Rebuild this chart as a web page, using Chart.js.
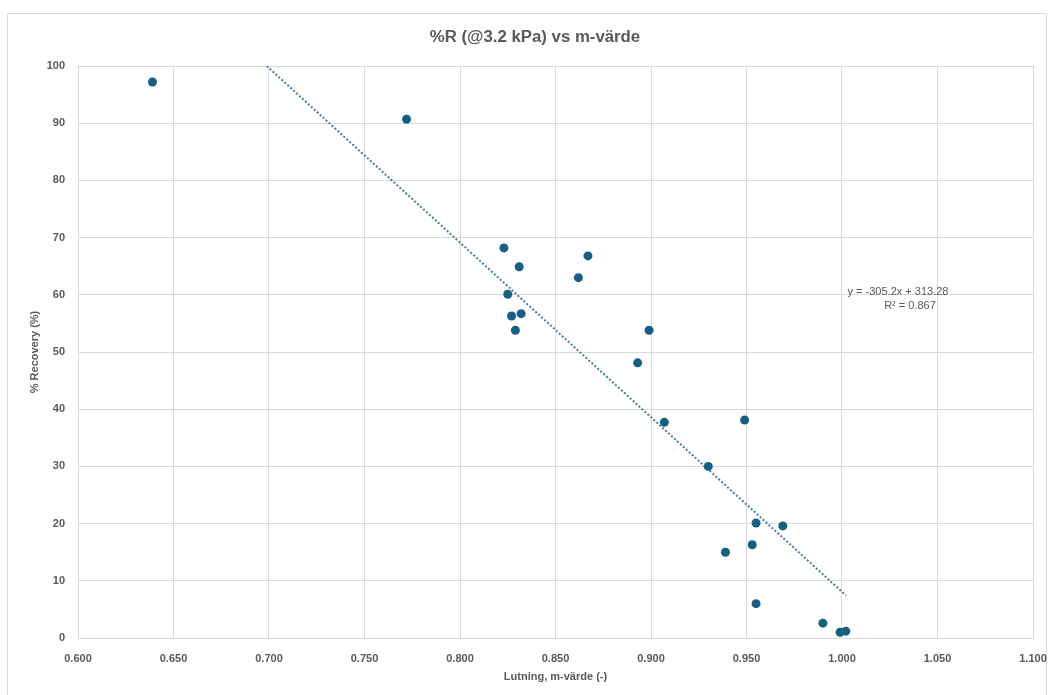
<!DOCTYPE html>
<html>
<head>
<meta charset="utf-8">
<script src="https://cdn.jsdelivr.net/npm/chart.js@4.4.1/dist/chart.umd.min.js"></script>
<style>
  html, body { margin: 0; padding: 0; background: #ffffff; }
  #wrap { position: relative; width: 1052px; height: 695px; overflow: hidden; }
  #frame { position: absolute; left: 7px; top: 13px; width: 1040px; height: 700px; border: 1px solid #d9d9d9; box-sizing: border-box; }
  canvas { position: absolute; left: 0; top: 0; }
</style>
</head>
<body>
<div id="wrap">
  <div id="frame"></div>
  <canvas id="c" width="1052" height="695"></canvas>
</div>
<script>
// ---- Data ----
const mValues = [0.639, 0.772, 0.823, 0.831, 0.825, 0.827, 0.832, 0.829, 0.867, 0.862, 0.899, 0.893,
                 0.907, 0.949, 0.930, 0.955, 0.969, 0.953, 0.939, 0.955, 0.990, 0.999, 1.002];
const recoveryValues = [97.2, 90.7, 68.2, 64.9, 60.1, 56.3, 56.7, 53.8, 66.8, 63.0, 53.8, 48.1,
                        37.7, 38.1, 30.0, 20.1, 19.6, 16.3, 15.0, 6.0, 2.6, 1.0, 1.2];
const trendSlope = [-305.2];
const trendIntercept = [313.28];
const trendX = [0.6988, 1.0021];
const xTicks = ['0.600','0.650','0.700','0.750','0.800','0.850','0.900','0.950','1.000','1.050','1.100'];
const yTicks = [0,10,20,30,40,50,60,70,80,90,100];
const chartTitle = '%R (@3.2 kPa) vs m-värde';
const xTitle = 'Lutning, m-värde (-)';
const yTitle = '% Recovery (%)';
const eqLines = ['y = -305.2x + 313.28', 'R² = 0.867'];

const points = mValues.map((x, i) => ({ x: x, y: recoveryValues[i] }));
const trend = trendX.map(x => ({ x: x, y: trendSlope[0] * x + trendIntercept[0] }));

const TXT = '#595959';
const GRID = '#d9d9d9';
const FONT = "'Liberation Sans', Arial, sans-serif";

const overlay = {
  id: 'overlay',
  afterDraw(chart) {
    const ctx = chart.ctx;
    const a = chart.chartArea;
    ctx.save();
    ctx.fillStyle = TXT;
    ctx.textAlign = 'center';
    ctx.textBaseline = 'middle';
    ctx.font = 'bold 16.8px ' + FONT;
    ctx.fillText(chartTitle, 535, 37);
    ctx.font = 'bold 11px ' + FONT;
    ctx.fillText(xTitle, (a.left + a.right) / 2, 677);
    ctx.save();
    ctx.translate(35, (a.top + a.bottom) / 2);
    ctx.rotate(-Math.PI / 2);
    ctx.fillText(yTitle, 0, 0);
    ctx.restore();
    ctx.font = '11px ' + FONT;
    ctx.fillText(eqLines[0], 898, 292);
    ctx.fillText(eqLines[1], 910, 306);
    ctx.restore();
  }
};

new Chart(document.getElementById('c'), {
  type: 'scatter',
  data: {
    datasets: [
      {
        label: 'Trend',
        type: 'line',
        data: trend,
        borderColor: '#3f7fa6',
        borderWidth: 2,
        borderDash: [2, 2],
        pointRadius: 0,
        fill: false,
        order: 2
      },
      {
        label: '%R',
        data: points,
        backgroundColor: '#156082',
        borderColor: '#156082',
        pointRadius: 4.5,
        pointBorderWidth: 0,
        order: 1
      }
    ]
  },
  options: {
    responsive: false,
    animation: false,
    devicePixelRatio: 1,
    layout: { padding: { left: 0, right: 19, top: 66, bottom: 0 } },
    plugins: { legend: { display: false }, tooltip: { enabled: false }, title: { display: false } },
    scales: {
      x: {
        type: 'linear',
        min: 0.6, max: 1.1,
        afterBuildTicks(s) { s.ticks = xTicks.map(t => ({ value: parseFloat(t) })); },
        afterFit(s) { s.height = 57; s.paddingLeft = 0; s.paddingRight = 0; },
        grid: { color: GRID, drawTicks: false, lineWidth: 1 },
        border: { color: GRID },
        ticks: {
          padding: 14,
          color: TXT,
          font: { family: FONT, size: 11, weight: 'bold' },
          callback: (v) => Number(v).toFixed(3),
          maxRotation: 0, autoSkip: false
        }
      },
      y: {
        type: 'linear',
        min: 0, max: 100,
        afterBuildTicks(s) { s.ticks = yTicks.map(v => ({ value: v })); },
        afterFit(s) { s.width = 78; s.paddingTop = 0; s.paddingBottom = 0; },
        grid: { color: GRID, drawTicks: false, lineWidth: 1 },
        border: { color: GRID },
        ticks: {
          padding: 13,
          color: TXT,
          font: { family: FONT, size: 11, weight: 'bold' }
        }
      }
    }
  },
  plugins: [overlay]
});
</script>
</body>
</html>
